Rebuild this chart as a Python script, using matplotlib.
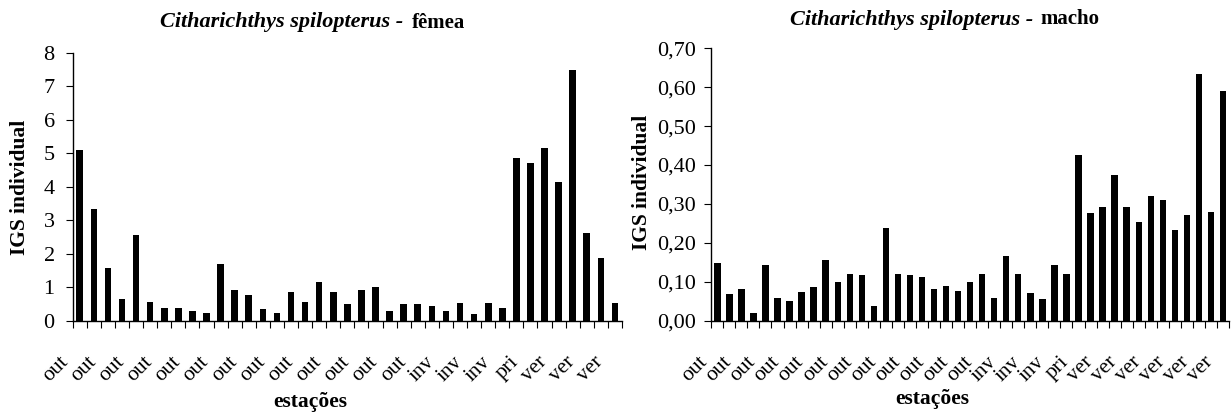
# IGS individual por estação - Citharichthys spilopterus (fêmea / macho)
import matplotlib
matplotlib.use("Agg")
import matplotlib.pyplot as plt
import matplotlib.transforms as mtransforms
import numpy as np

plt.rcParams['font.family'] = 'Liberation Serif'

# dados
femea_igs = [5.11, 3.32, 1.58, 0.65, 2.56, 0.55, 0.39, 0.39, 0.29, 0.24,
             1.68, 0.91, 0.76, 0.35, 0.24, 0.86, 0.55, 1.16, 0.86, 0.50,
             0.91, 1.01, 0.29, 0.50, 0.50, 0.45, 0.28, 0.54, 0.19, 0.54,
             0.39, 4.87, 4.71, 5.17, 4.15, 7.49, 2.61, 1.88, 0.54]
femea_estacao = ['out'] * 26 + ['inv'] * 5 + ['pri'] * 2 + ['ver'] * 6

macho_igs = [0.147, 0.068, 0.081, 0.019, 0.143, 0.059, 0.051, 0.073, 0.086, 0.157,
             0.099, 0.121, 0.117, 0.037, 0.237, 0.121, 0.117, 0.112, 0.081, 0.090,
             0.076, 0.099, 0.121, 0.059, 0.165, 0.121, 0.072, 0.055, 0.143, 0.121,
             0.427, 0.276, 0.293, 0.374, 0.293, 0.254, 0.320, 0.311, 0.233, 0.271,
             0.635, 0.280, 0.590]
macho_estacao = ['out'] * 24 + ['inv'] * 6 + ['pri'] * 2 + ['ver'] * 11

W, H = 1232, 412
fig = plt.figure(figsize=(W / 100, H / 100), dpi=100)


def px_box(x0, y_top, x1, y_bot):
    return [x0 / W, 1 - y_bot / H, (x1 - x0) / W, (y_bot - y_top) / H]


def draw_panel(ax, values, seasons, bar_w, label_dx):
    n = len(values)
    x = np.arange(n)
    ax.bar(x, values, width=bar_w, color='black')
    ax.set_xlim(-0.5, n - 0.5)
    ax.spines['top'].set_visible(False)
    ax.spines['right'].set_visible(False)
    ax.spines['left'].set_linewidth(1)
    ax.spines['bottom'].set_linewidth(1)
    # ticks between categories, labels on every other category
    ax.set_xticks(np.arange(n + 1) - 0.5)
    ax.set_xticklabels([])
    ax.set_xticks(x[::2], minor=True)
    ax.set_xticklabels(seasons[::2], minor=True, rotation=45,
                       ha='right', va='top', fontsize=15.5)
    ax.tick_params(axis='x', which='major', direction='out', length=5, width=0.8)
    ax.tick_params(axis='x', which='minor', length=0, pad=23)
    offset = mtransforms.ScaledTranslation(label_dx / 100, 0, fig.dpi_scale_trans)
    for lab in ax.get_xticklabels(minor=True):
        lab.set_transform(lab.get_transform() + offset)
    ax.tick_params(axis='y', direction='out', length=5, width=0.8, labelsize=16)


# fêmea
ax1 = fig.add_axes(px_box(72.7, 52.7, 622, 320.7))
draw_panel(ax1, femea_igs, femea_estacao, 0.47, -8)
ax1.set_ylim(0, 8)
ax1.set_yticks(range(0, 9))
ax1.tick_params(axis='y', pad=8)

# macho
ax2 = fig.add_axes(px_box(711.3, 48.3, 1229, 320.7))
draw_panel(ax2, macho_igs, macho_estacao, 0.53, -6)
ax2.set_ylim(0, 0.70)
yt = np.arange(0, 0.71, 0.1)
ax2.set_yticks(yt)
ax2.set_yticklabels([f"{v:.2f}".replace('.', ',') for v in yt])
ax2.tick_params(axis='y', pad=6)


def fx(x):
    return x / W


def fy(y):
    return 1 - y / H


# títulos
fig.text(fx(403), fy(27.5), "Citharichthys spilopterus -", ha='right', va='baseline',
         fontsize=16, fontweight='bold', fontstyle='italic')
fig.text(fx(412), fy(27.5), "fêmea", ha='left', va='baseline',
         fontsize=15, fontweight='bold')
fig.text(fx(1033), fy(24.5), "Citharichthys spilopterus -", ha='right', va='baseline',
         fontsize=16, fontweight='bold', fontstyle='italic')
fig.text(fx(1040), fy(24.5), "macho", ha='left', va='baseline',
         fontsize=15, fontweight='bold')

# rótulos dos eixos
fig.text(fx(20), fy(187), "IGS individual", rotation=90, ha='center', va='center',
         fontsize=15.5, fontweight='bold')
fig.text(fx(642), fy(182), "IGS individual", rotation=90, ha='center', va='center',
         fontsize=15.5, fontweight='bold')
fig.text(fx(310), fy(407), "estações", ha='center', va='baseline',
         fontsize=15.5, fontweight='bold')
fig.text(fx(932), fy(404), "estações", ha='center', va='baseline',
         fontsize=15.5, fontweight='bold')

fig.savefig("out.png", dpi=100)
